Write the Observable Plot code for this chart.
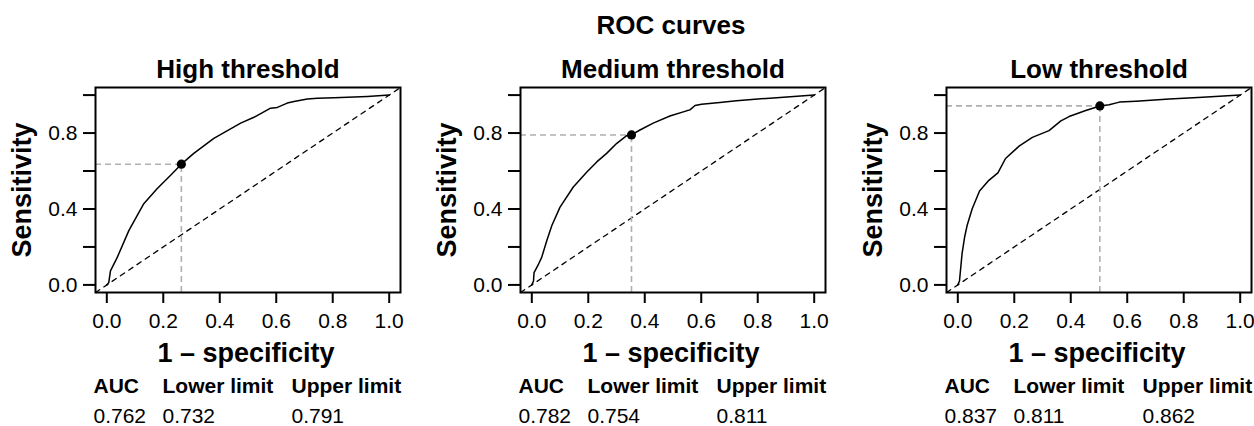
<!DOCTYPE html>
<html><head><meta charset="utf-8">
<script src="https://cdn.jsdelivr.net/npm/d3@7"></script>
<script src="https://cdn.jsdelivr.net/npm/@observablehq/plot@0.6"></script>
<style>
html,body{margin:0;padding:0;background:#fff;overflow:hidden;}
#wrap{position:relative;width:1254px;height:426px;overflow:hidden;background:#fff;}
#wrap svg{position:absolute;top:0;}
</style></head><body><div id="wrap"></div>
<script>
const mainTitle = "ROC curves";
const panelTitles = ["High threshold", "Medium threshold", "Low threshold"];
const xLabel = "1 \u2013 specificity";
const yLabel = "Sensitivity";

const highFpr  = [0, 0.007, 0.013, 0.037, 0.078, 0.131, 0.178, 0.226, 0.264, 0.308, 0.379, 0.474, 0.521, 0.580, 0.604, 0.639, 0.663, 0.710, 0.746, 0.805, 0.923, 1];
const highSens = [0, 0.012, 0.074, 0.145, 0.286, 0.428, 0.507, 0.578, 0.636, 0.693, 0.772, 0.852, 0.883, 0.931, 0.935, 0.958, 0.966, 0.979, 0.984, 0.986, 0.993, 1];

const medFpr  = [0, 0.006, 0.008, 0.024, 0.035, 0.053, 0.071, 0.100, 0.147, 0.195, 0.230, 0.265, 0.301, 0.336, 0.353, 0.383, 0.430, 0.489, 0.548, 0.560, 0.578, 0.601, 0.666, 0.725, 0.843, 1];
const medSens = [0, 0.021, 0.065, 0.110, 0.145, 0.233, 0.313, 0.410, 0.516, 0.595, 0.648, 0.693, 0.746, 0.786, 0.790, 0.816, 0.852, 0.890, 0.917, 0.922, 0.945, 0.952, 0.961, 0.970, 0.984, 1];

const lowFpr  = [0, 0.006, 0.015, 0.024, 0.033, 0.051, 0.077, 0.110, 0.142, 0.169, 0.217, 0.264, 0.323, 0.365, 0.394, 0.453, 0.503, 0.536, 0.572, 0.631, 0.749, 0.867, 1];
const lowSens = [0, 0.021, 0.163, 0.251, 0.313, 0.401, 0.495, 0.551, 0.590, 0.666, 0.731, 0.777, 0.813, 0.864, 0.887, 0.919, 0.943, 0.949, 0.963, 0.968, 0.979, 0.989, 1];

const cutFpr  = [0.264, 0.353, 0.503];
const cutSens = [0.636, 0.790, 0.943];

const tableHeaders = ["AUC", "Lower limit", "Upper limit"];
const aucValues   = ["0.762", "0.782", "0.837"];
const lowerValues = ["0.732", "0.754", "0.811"];
const upperValues = ["0.791", "0.811", "0.862"];

const xTicks = [0, 0.2, 0.4, 0.6, 0.8, 1.0];
const yTicks = [0, 0.2, 0.4, 0.6, 0.8, 1.0];
const yTickLabels = [0, 0.4, 0.8];
const axisDomain = [-0.04, 1.04];

const curves = [[highFpr, highSens], [medFpr, medSens], [lowFpr, lowSens]];
const panelLeft = [0, 425, 851];
const colOffset = [-2, 67, 196];

const FONT = "'Liberation Sans', Arial, Helvetica, sans-serif";
const wrap = document.getElementById("wrap");
const fmt = d3.format(".1f");

curves.forEach(([fpr, sens], i) => {
  const curve = fpr.map((f, k) => ({fpr: f, sens: sens[k]}));
  const diag = axisDomain.map(v => ({fpr: v, sens: v}));
  const cut = [{fpr: cutFpr[i], sens: cutSens[i]}];
  const rows = [aucValues[i], lowerValues[i], upperValues[i]];
  const marks = [
    Plot.line(diag, {x: "fpr", y: "sens", stroke: "black", strokeWidth: 1.3, strokeDasharray: "5,5"}),
    Plot.ruleY(cut, {y: "sens", x1: axisDomain[0], x2: "fpr", stroke: "#b0b0b0", strokeWidth: 1.6, strokeDasharray: "6,4"}),
    Plot.ruleX(cut, {x: "fpr", y1: axisDomain[0], y2: "sens", stroke: "#b0b0b0", strokeWidth: 1.6, strokeDasharray: "6,4"}),
    Plot.line(curve, {x: "fpr", y: "sens", stroke: "black", strokeWidth: 1.5}),
    Plot.dot(cut, {x: "fpr", y: "sens", r: 4.6, fill: "black", stroke: "none"}),
    Plot.axisX({ticks: xTicks, tickFormat: fmt, tickSize: 11, tickPadding: 10, strokeWidth: 2, label: null, fontSize: 21}),
    Plot.axisY({ticks: yTicks, tickFormat: () => "", tickSize: 12, strokeWidth: 2, label: null}),
    Plot.axisY({ticks: yTickLabels, tickFormat: fmt, tickSize: 0, tickPadding: 18, label: null, fontSize: 21}),
    Plot.frame({stroke: "black", strokeWidth: 2}),
    Plot.text([panelTitles[i]], {frameAnchor: "top", lineAnchor: "bottom", dy: -10, fontSize: 26, fontWeight: "bold"}),
    Plot.text([xLabel], {frameAnchor: "bottom", lineAnchor: "bottom", dy: 69, dx: -2, fontSize: 27, fontWeight: "bold"}),
    Plot.text([yLabel], {frameAnchor: "left", textAnchor: "middle", lineAnchor: "bottom", rotate: -90, dx: -65, fontSize: 27, fontWeight: "bold"}),
    ...tableHeaders.map((h, c) => Plot.text([h], {frameAnchor: "bottom-left", textAnchor: "start", lineAnchor: "bottom", dx: colOffset[c], dy: 100, fontSize: 21, fontWeight: "bold"})),
    ...rows.map((v, c) => Plot.text([v], {frameAnchor: "bottom-left", textAnchor: "start", lineAnchor: "bottom", dx: colOffset[c], dy: 130, fontSize: 21}))
  ];
  if (i === 1) {
    marks.push(Plot.text([mainTitle], {frameAnchor: "top", lineAnchor: "bottom", dy: -54, dx: -2, fontSize: 26, fontWeight: "bold"}));
  }
  const chart = Plot.plot({
    width: 412,
    height: 426,
    marginLeft: 95,
    marginRight: 12,
    marginTop: 87,
    marginBottom: 134,
    x: {domain: axisDomain},
    y: {domain: axisDomain},
    style: {fontFamily: FONT, fontSize: "21px", color: "black", background: "white", overflow: "visible"},
    marks
  });
  chart.style.left = panelLeft[i] + "px";
  chart.style.position = "absolute";
  chart.style.top = "0px";
  wrap.appendChild(chart);
});
</script>
</body></html>
